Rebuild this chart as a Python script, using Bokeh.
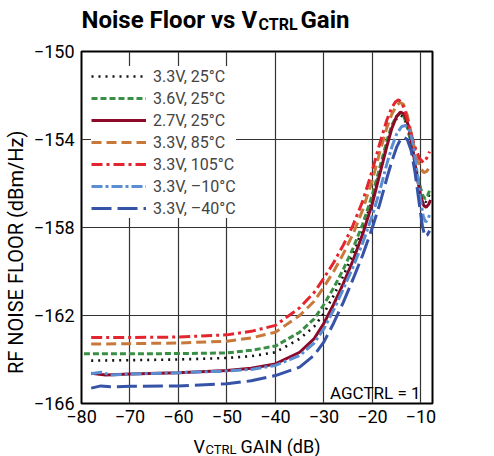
import math
from bokeh.plotting import figure
from bokeh.layouts import column, row
from bokeh.models import Range1d, FixedTicker, Label, Legend, LegendItem
from bokeh.embed import file_html
from bokeh.resources import INLINE

# ---------------- data ----------------
x_ticks = [-80, -70, -60, -50, -40, -30, -20, -10]
y_ticks = [-166, -162, -158, -154, -150]

series_names = ["3.3V, 25°C", "3.6V, 25°C", "2.7V, 25°C", "3.3V, 85°C",
                "3.3V, 105°C", "3.3V, –10°C", "3.3V, –40°C"]

x_33 = [-78, -70, -60, -50, -45, -40, -35, -32, -30, -28, -26, -24, -22, -20, -18.5, -17, -16, -15, -14.2, -13.5, -12.7, -11.8, -10.9, -10.1, -9.5, -9.0, -8.5, -8.0]
y_33 = [-164.05, -164.03, -164.0, -163.93, -163.85, -163.67, -163.06, -162.5, -161.9, -161.1, -160.2, -159.2, -158.05, -156.7, -155.45, -154.2, -153.45, -153.05, -152.9, -152.98, -153.5, -154.45, -155.5, -156.3, -156.7, -156.85, -156.65, -156.35]

x_36 = [-79.5, -70, -60, -50, -45, -40, -35, -32, -30, -28, -26, -24, -22, -20, -18.5, -17, -16, -15, -14.3, -13.6, -12.8, -11.9, -11, -10.2, -9.6, -9.1, -8.6, -8.1]
y_36 = [-163.74, -163.74, -163.73, -163.70, -163.58, -163.39, -162.76, -162.15, -161.5, -160.75, -159.9, -158.95, -157.85, -156.5, -155.3, -154.05, -153.35, -152.95, -152.82, -152.9, -153.4, -154.3, -155.3, -156.1, -156.55, -156.7, -156.55, -156.25]

x_27 = [-78, -75, -70, -60, -50, -45, -40, -35, -32, -30, -28, -26, -24, -22, -20, -18.5, -17, -16, -15, -14.2, -13.4, -12.6, -11.7, -10.8, -10.0, -9.4, -8.9, -8.4, -8.0]
y_27 = [-164.62, -164.7, -164.66, -164.6, -164.5, -164.4, -164.2, -163.67, -163.05, -162.35, -161.5, -160.55, -159.5, -158.3, -156.9, -155.6, -154.3, -153.5, -152.95, -152.75, -152.85, -153.35, -154.4, -155.7, -156.6, -157.0, -157.08, -156.95, -156.75]

x_85 = [-78, -70, -60, -50, -45, -40, -35, -32, -30, -28, -26, -24, -22, -20, -18.5, -17, -16, -15, -14.3, -13.6, -12.8, -11.9, -11, -10.1, -9.4, -8.8, -8.2]
y_85 = [-163.3, -163.28, -163.25, -163.17, -163.02, -162.76, -162.0, -161.35, -160.7, -160.0, -159.2, -158.3, -157.2, -155.85, -154.6, -153.45, -152.85, -152.45, -152.32, -152.4, -152.9, -153.8, -154.7, -155.3, -155.5, -155.45, -155.25]

x_105 = [-78, -70, -60, -50, -45, -40, -35, -32, -30, -28, -26, -24, -22, -20, -18.5, -17, -16, -15.2, -14.6, -14, -13.2, -12.3, -11.3, -10.3, -9.5, -8.8, -8.2]
y_105 = [-163.0, -163.0, -162.98, -162.88, -162.72, -162.45, -161.65, -160.95, -160.3, -159.6, -158.8, -157.9, -156.8, -155.4, -154.2, -153.1, -152.55, -152.28, -152.2, -152.3, -152.75, -153.5, -154.3, -154.85, -155.05, -154.85, -154.55]

x_m10 = [-78, -76, -74, -70, -60, -50, -45, -40, -35, -32, -30, -28, -26, -24, -22, -20, -18.5, -17, -16, -15, -14, -13.2, -12.5, -11.7, -10.9, -10.1, -9.5, -9.0, -8.5, -8.0]
y_m10 = [-164.65, -164.58, -164.7, -164.66, -164.6, -164.52, -164.45, -164.27, -163.82, -163.25, -162.6, -161.75, -160.8, -159.8, -158.7, -157.45, -156.35, -155.1, -154.35, -153.75, -153.42, -153.36, -153.5, -154.1, -155.3, -156.7, -157.5, -157.75, -157.6, -157.3]

x_m40 = [-78, -76, -74, -70, -60, -50, -45, -40, -35, -32, -30, -28, -26, -24, -22, -20, -18.5, -17, -16, -15, -14.2, -13.5, -12.8, -12.0, -11.2, -10.4, -9.7, -9.2, -8.7, -8.2]
y_m40 = [-165.3, -165.2, -165.24, -165.22, -165.2, -165.1, -164.97, -164.73, -164.35, -163.8, -163.2, -162.35, -161.4, -160.35, -159.25, -158.0, -156.95, -155.75, -155.0, -154.35, -154.0, -153.9, -154.0, -154.5, -155.5, -156.8, -157.9, -158.4, -158.35, -158.15]

# ---------------- styles ----------------
FONT = "Roboto"
styles = [
    dict(color="#111111", dash="2 5", width=2.6),
    dict(color="#3a8f45", dash="6 3", width=3),
    dict(color="#8c0a28", dash="solid", width=3),
    dict(color="#c8793a", dash="10 5", width=3),
    dict(color="#e3252f", dash="11 4 3 4", width=3),
    dict(color="#5a8ed2", dash="11 3 3 3", width=3),
    dict(color="#3653a8", dash="20 6", width=3),
]
data = [(x_33, y_33), (x_36, y_36), (x_27, y_27), (x_85, y_85),
        (x_105, y_105), (x_m10, y_m10), (x_m40, y_m40)]


def blank(w, h):
    f = figure(width=w, height=h, output_backend="svg", toolbar_location=None,
               x_range=Range1d(0, w), y_range=Range1d(0, h),
               x_axis_type=None, y_axis_type=None, min_border=0)
    f.title.visible = False
    f.outline_line_color = None
    f.background_fill_color = "white"
    f.border_fill_color = "white"
    return f


def lab(f, text, x, y, size, bold=False, units="data", **kw):
    f.add_layout(Label(x=x, y=y, x_units=units, y_units=units, text=text,
                       text_font=FONT, text_font_size=size,
                       text_font_style="bold" if bold else "normal",
                       text_color="black", **kw))


# ---------------- main plot ----------------
p = figure(width=494, height=393, output_backend="svg", toolbar_location=None,
           x_range=Range1d(-80, -7.6), y_range=Range1d(-166, -150),
           min_border_left=81, min_border_right=62, min_border_top=13,
           min_border_bottom=28)
p.title.visible = False
p.outline_line_color = "black"
p.outline_line_width = 2
p.background_fill_color = "white"
p.border_fill_color = "white"

for ax, ticks in ((p.xaxis, x_ticks), (p.yaxis, y_ticks)):
    ax.ticker = FixedTicker(ticks=ticks)
    ax.major_label_overrides = {t: str(t).replace("-", "\u2212") for t in ticks}
    ax.axis_line_color = None
    ax.major_tick_out = 0
    ax.major_tick_in = 0
    ax.minor_tick_out = 0
    ax.minor_tick_in = 0
    ax.major_label_text_font = FONT
    ax.major_label_text_font_size = "18px"
    ax.major_label_text_color = "black"
p.xaxis.major_label_standoff = 6
p.yaxis.major_label_standoff = 7

# y axis title (trailing no-break spaces shift it down like the reference)
p.yaxis.axis_label = "RF NOISE FLOOR (dBm/Hz)" + "\u00a0" * 10
p.yaxis.axis_label_text_font = FONT
p.yaxis.axis_label_text_font_size = "20px"
p.yaxis.axis_label_text_font_style = "normal"
p.yaxis.axis_label_text_color = "black"
p.yaxis.axis_label_standoff = 3

p.xgrid.ticker = FixedTicker(ticks=x_ticks)
p.ygrid.ticker = FixedTicker(ticks=y_ticks)
for g in (p.xgrid, p.ygrid):
    g.grid_line_color = "#333333"
    g.grid_line_width = 1.2

items = []
for (xs, ys), st, name in zip(data, styles, series_names):
    r = p.line(xs, ys, line_color=st["color"], line_width=st["width"],
               line_dash=st["dash"])
    items.append(LegendItem(label=name, renderers=[r]))

legend = Legend(items=items, location=(10, 185))
legend.background_fill_color = "white"
legend.background_fill_alpha = 1
legend.border_line_color = None
legend.label_text_font = FONT
legend.label_text_font_size = "16px"
legend.glyph_width = 55
legend.glyph_height = 20
legend.label_height = 20
legend.spacing = 2
legend.padding = 6
legend.margin = 0
legend.label_standoff = 7
p.add_layout(legend)

lab(p, "AGCTRL = 1", 339, 11, "17px", units="screen", text_align="right",
    text_baseline="alphabetic")

# ---------------- title ----------------
t = blank(494, 38)
lab(t, "Noise Floor vs V", 81, 19, "24px", bold=True, text_align="left",
    text_baseline="alphabetic")
lab(t, "CTRL", 258, 14, "16px", bold=True, text_align="left",
    text_baseline="alphabetic")
lab(t, "Gain", 300, 19, "24px", bold=True, text_align="left",
    text_baseline="alphabetic")

# ---------------- x label ----------------
xl = blank(494, 25)
lab(xl, "V", 193, 10, "18px", text_align="left", text_baseline="alphabetic")
lab(xl, "CTRL", 205, 7, "13px", text_align="left", text_baseline="alphabetic")
lab(xl, "GAIN (dB)", 240, 10, "18px", text_align="left", text_baseline="alphabetic")

layout = column(row(t), row(p), row(xl))
open("out.html", "w").write(file_html(layout, INLINE))
